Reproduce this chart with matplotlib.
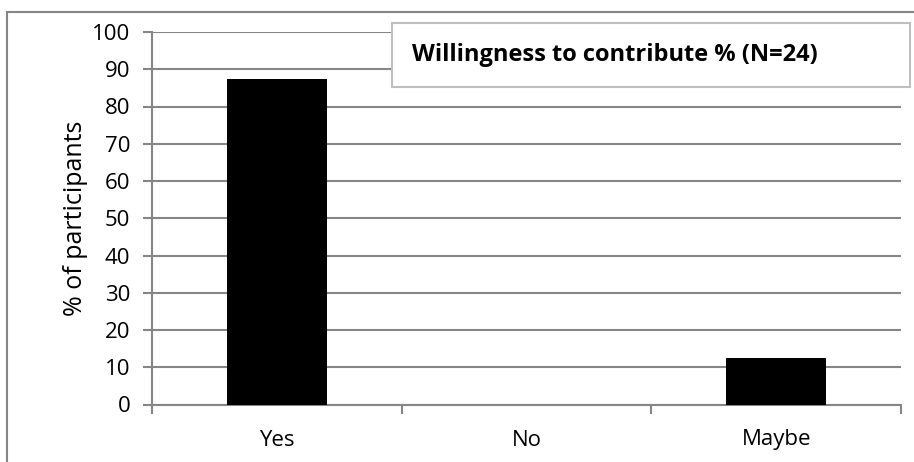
import matplotlib.pyplot as plt
from matplotlib.patches import Rectangle

# Survey answers (N=24)
categories = ['Yes', 'No', 'Maybe']
percentages = [87.5, 0.0, 12.5]
y_ticks = list(range(0, 101, 10))
title_text = 'Willingness to contribute % (N=24)'

plt.rcParams['font.family'] = ['Open Sans', 'DejaVu Sans']
grey = '#868686'

W, H = 914, 462
fig = plt.figure(figsize=(W / 100, H / 100), dpi=100)
ax = fig.add_axes([152 / W, 1 - 404.5 / H, (901 - 152) / W, (404.5 - 32) / H])

x = list(range(len(categories)))
ax.bar(x, percentages, width=0.4, color='black', zorder=3)

ax.set_ylim(0, 100)
ax.set_yticks(y_ticks)
ax.set_xlim(-0.5, len(categories) - 0.5)
# boundary ticks between categories, labels centered on bars
ax.set_xticks([i - 0.5 for i in range(len(categories) + 1)])
ax.set_xticklabels([])
ax.set_xticks(x, minor=True)
ax.set_xticklabels(categories, minor=True)
ax.tick_params(axis='x', which='major', length=6.5, width=1.5, color=grey)
ax.tick_params(axis='x', which='minor', length=0, pad=18, labelsize=16)
ax.tick_params(axis='y', length=6.5, width=1.5, color=grey, labelsize=16, pad=9)

ax.grid(axis='y', color=grey, linewidth=1.5, zorder=0)
ax.set_axisbelow(True)
for side in ['top', 'right']:
    ax.spines[side].set_visible(False)
for side in ['left', 'bottom']:
    ax.spines[side].set_color(grey)
    ax.spines[side].set_linewidth(1.5)

ax.set_ylabel('% of participants', fontsize=18, labelpad=3)

# title box
fig.patches.append(Rectangle((392 / W, 1 - 87 / H), (910 - 392) / W, 64 / H,
                             transform=fig.transFigure, facecolor='white',
                             edgecolor='#bfbfbf', linewidth=1.5, zorder=5))
fig.text(412 / W, 1 - 55 / H, title_text, fontsize=17, fontweight='bold',
         va='center', ha='left', zorder=6)

# outer chart border
fig.patches.append(Rectangle((7 / W, -0.05), 1.1, 1.05 - 12 / H,
                             transform=fig.transFigure, fill=False,
                             edgecolor=grey, linewidth=1.5, zorder=0))

fig.savefig('out.png', dpi=100)
